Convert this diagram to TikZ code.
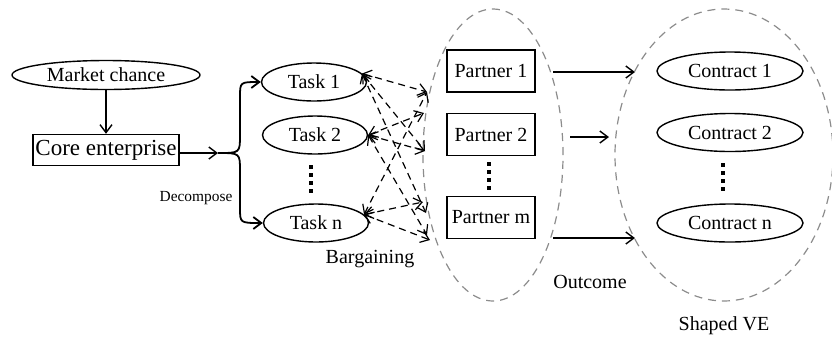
\documentclass[tikz,border=0pt]{standalone}
\usepackage{fontspec}
\setmainfont{Liberation Serif}
\usetikzlibrary{shapes.geometric,arrows.meta}

\tikzset{
  oval/.style={draw, ellipse, inner sep=0pt, minimum width=52.5pt, minimum height=19pt},
  box/.style={draw, rectangle, inner sep=0.5pt, minimum width=44pt, minimum height=21pt},
  zone/.style={draw=black!45, ellipse, dash pattern=on 4pt off 3pt, line width=0.6pt, inner sep=0pt},
  vdots/.style={line width=2pt, dash pattern=on 2.2pt off 1.8pt},
  deal/.style={<->, dash pattern=on 3.5pt off 2.5pt, line width=0.6pt},
  brace/.style={->, line width=0.9pt},
}

\begin{document}
\begin{tikzpicture}[x=0.5pt, y=-0.5pt, line width=0.7pt, >={Straight Barb[length=4pt,width=6pt]}]
\useasboundingbox (0,0) rectangle (832,339);
% the two dashed zones
\node[zone, minimum width=70pt, minimum height=146pt] (outzone) at (493,155) {};
\node[zone, minimum width=109pt, minimum height=146pt] (vezone) at (724,155) {};

% left part
\node[oval, minimum width=94pt, minimum height=14.5pt] (market) at (106,75) {Market chance};
\node[draw, inner sep=0pt, minimum width=73pt, minimum height=15.5pt, font=\fontsize{11.5}{13}\selectfont] (core) at (106,150) {Core enterprise};
\draw[->] (market) -- (core);
\coordinate (fork) at (218,153);
\draw[->] (core.east |- fork) -- (fork);
\node[font=\fontsize{7.7}{9}\selectfont] (decomp) at (196,198) {Decompose};

% tasks
\node[oval] (task1) at (314,82) {Task 1};
\node[oval] (task2) at (315,135) {Task 2};
\node[oval] (taskn) at (316,223) {Task n};
\draw[vdots] (311,165) -- (311,193);
\draw[brace] (fork) .. controls (240,153) .. (240,135) -- (240,97) .. controls (240,82) .. (task1.west);
\draw[brace] (fork) .. controls (240,153) .. (240,171) -- (240,208) .. controls (240,223) .. (taskn.west);

% partners
\node[box] (partner1) at (491,71) {Partner 1};
\node[box] (partner2) at (491,134.5) {Partner 2};
\node[box] (partnerm) at (491,217.5) {Partner m};
\draw[vdots] (489,162) -- (489,190);

% bargaining
\coordinate (b1) at (427,92);
\coordinate (b2) at (424,113);
\coordinate (b3) at (425,151);
\coordinate (b4) at (423,202);
\coordinate (b5) at (426,213);
\coordinate (b6) at (427,235);
\coordinate (b7) at (430,240);
\draw[deal] (task1.10) -- (b1);
\draw[deal] (task1.10) -- (b3);
\draw[deal] (task1.10) -- (b5);
\draw[deal] (task2.east) -- (b2);
\draw[deal] (task2.east) -- (b3);
\draw[deal] (task2.east) -- (b6);
\draw[deal] (taskn.10) -- (b1);
\draw[deal] (taskn.10) -- (b4);
\draw[deal] (taskn.10) -- (b7);
\node (bargain) at (370,259) {Bargaining};

% contracts
\node[oval, minimum width=73pt] (contract1) at (730,71) {Contract 1};
\node[oval, minimum width=73pt] (contract2) at (730,132.5) {Contract 2};
\node[oval, minimum width=73pt] (contractn) at (730,223) {Contract n};
\draw[vdots] (723,163) -- (723,193);

% outcome arrows
\coordinate (o1) at (553,72);
\coordinate (v1) at (635,72);
\coordinate (o2) at (570,137);
\coordinate (v2) at (609,137);
\coordinate (o3) at (553,238);
\coordinate (v3) at (635,238);
\draw[->] (o1) -- (v1);
\draw[->] (o2) -- (v2);
\draw[->] (o3) -- (v3);
\node (outlabel) at (590,282) {Outcome};
\node (velabel) at (724,326) {Shaped VE};
\end{tikzpicture}
\end{document}
